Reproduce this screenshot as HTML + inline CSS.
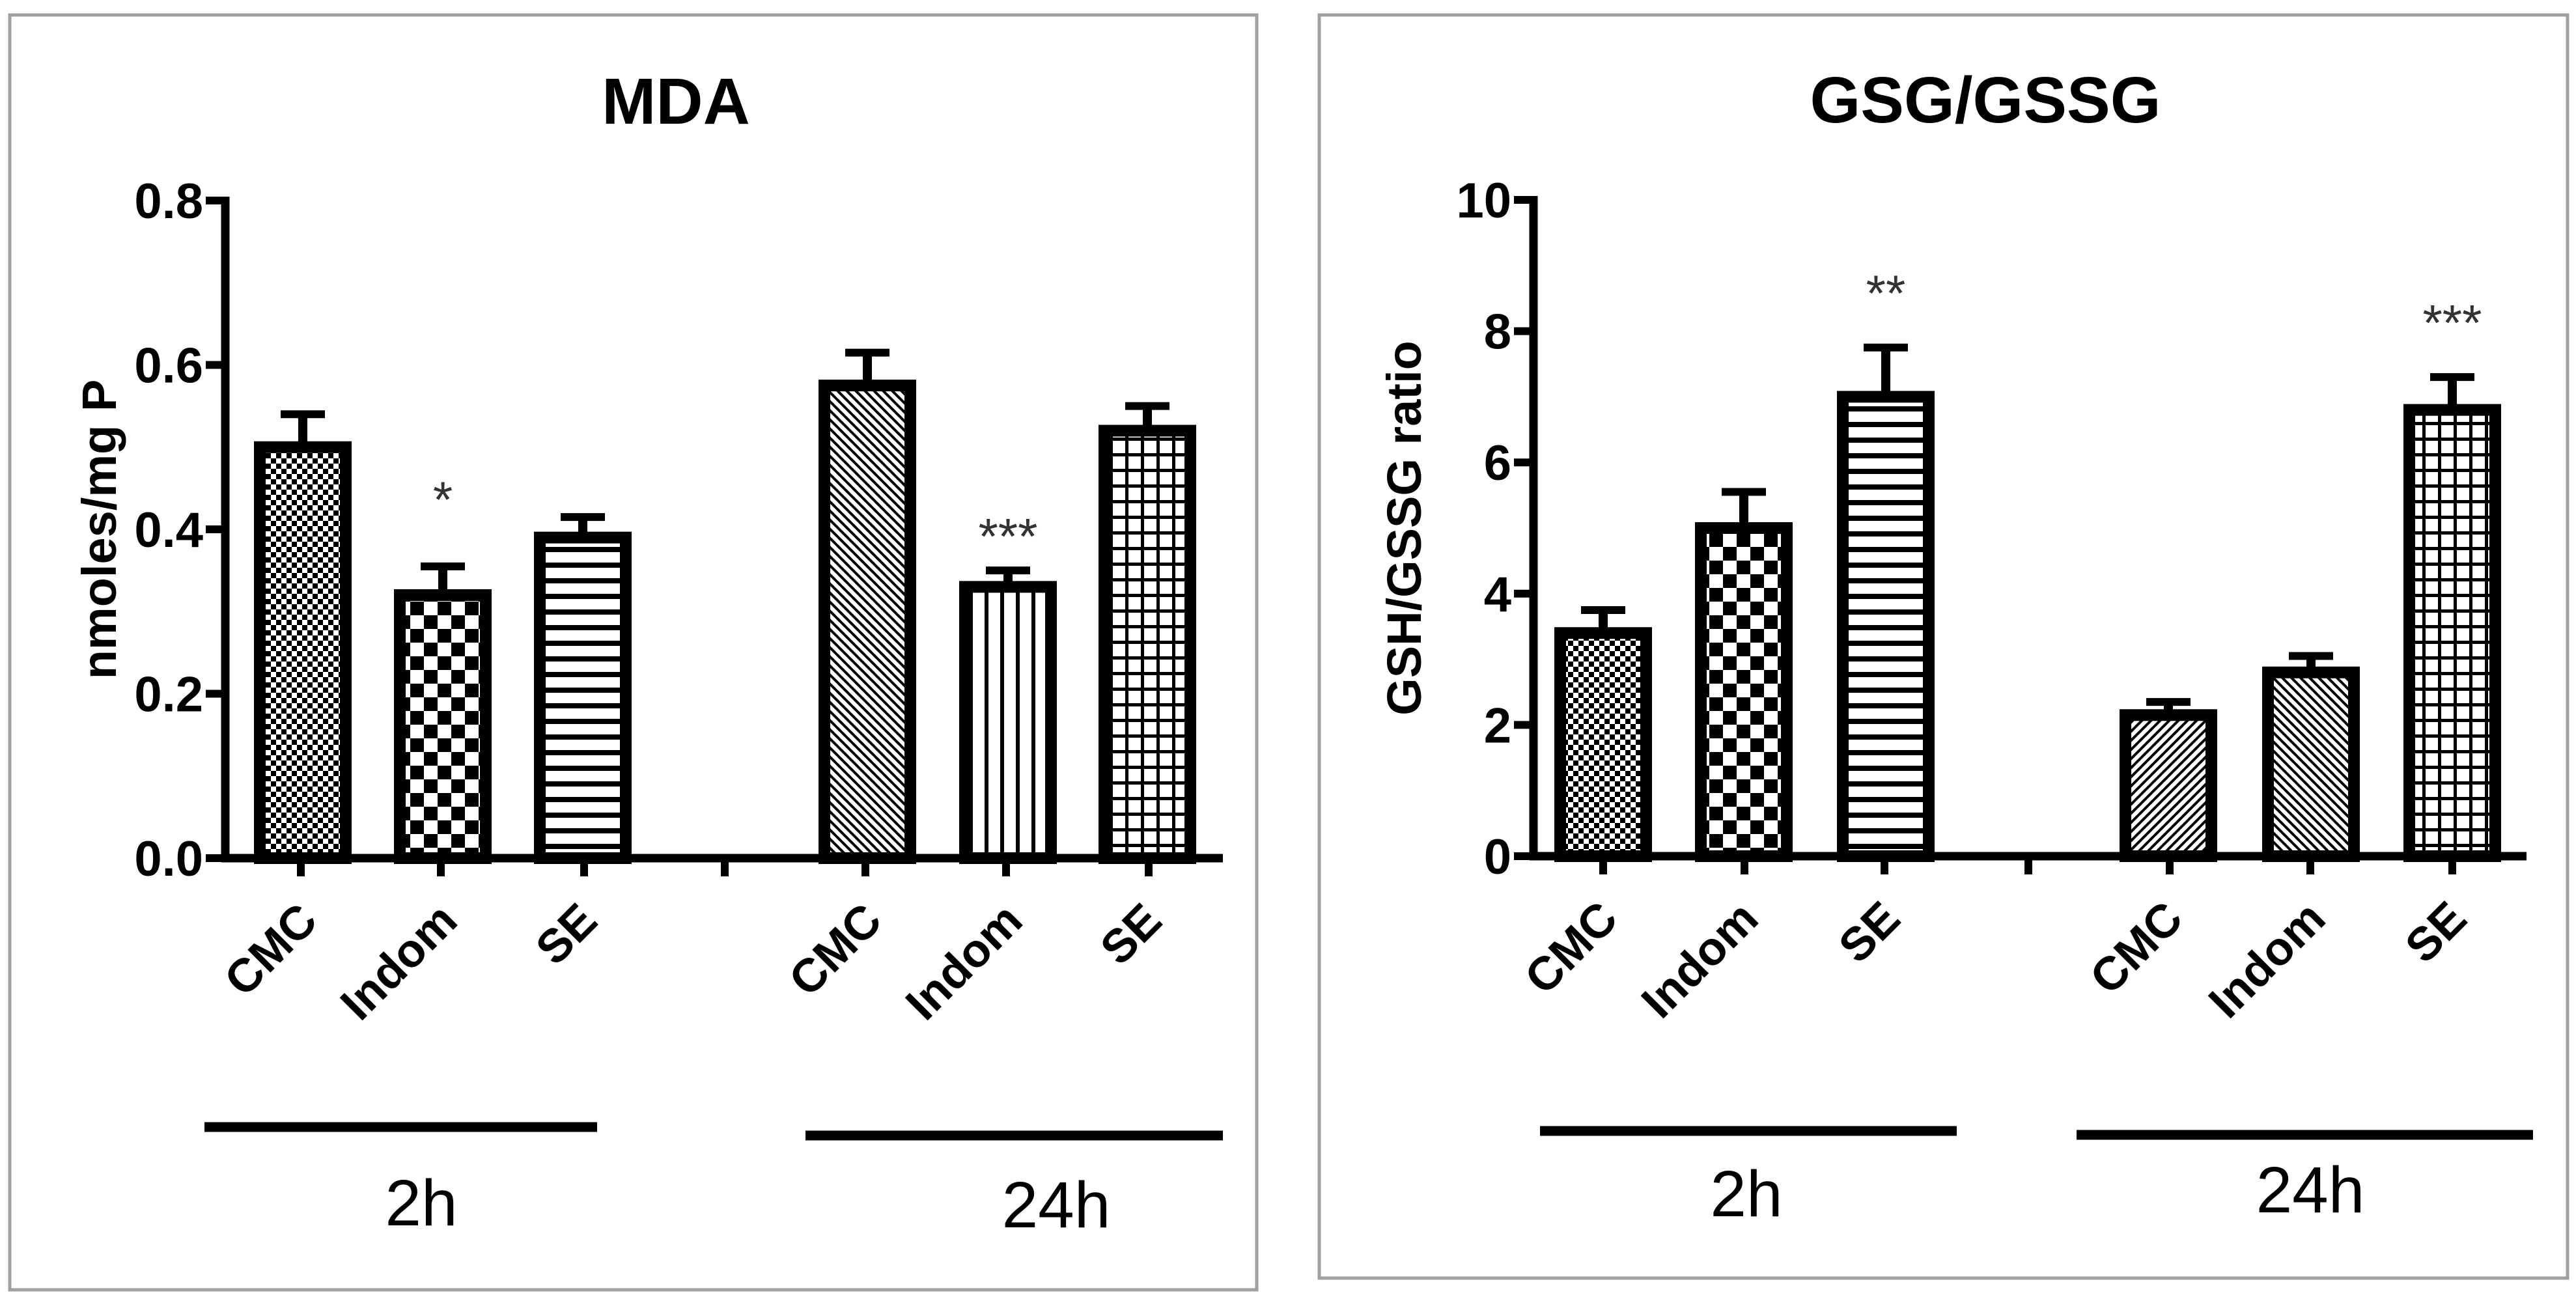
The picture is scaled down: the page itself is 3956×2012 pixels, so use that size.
<!DOCTYPE html>
<html><head><meta charset="utf-8">
<style>
html,body{margin:0;padding:0;background:#fff;}
svg{display:block;}
text{font-family:"Liberation Sans",Arial,sans-serif;}
</style></head>
<body>
<svg id="fig" width="3956" height="2012" viewBox="0 0 3956 2012" xmlns="http://www.w3.org/2000/svg">
<defs>
<pattern id="pSmallCheck" width="16" height="16" patternUnits="userSpaceOnUse"><rect width="16" height="16" fill="#fff"/><rect width="8" height="8" fill="#000"/><rect x="8" y="8" width="8" height="8" fill="#000"/></pattern>
<pattern id="pBigCheck" width="42" height="42" patternUnits="userSpaceOnUse"><rect width="42" height="42" fill="#fff"/><rect width="21" height="21" fill="#000"/><rect x="21" y="21" width="21" height="21" fill="#000"/></pattern>
<pattern id="pHoriz" width="24" height="24" patternUnits="userSpaceOnUse"><rect width="24" height="24" fill="#fff"/><rect y="0" width="24" height="8" fill="#000"/></pattern>
<pattern id="pVert" width="24" height="24" patternUnits="userSpaceOnUse"><rect width="24" height="24" fill="#fff"/><rect x="0" width="6" height="24" fill="#000"/></pattern>
<pattern id="pGrid" width="24" height="24" patternUnits="userSpaceOnUse"><rect width="24" height="24" fill="#fff"/><rect width="24" height="5" fill="#000"/><rect width="5" height="24" fill="#000"/></pattern>
<pattern id="pDiagBack" width="14" height="14" patternUnits="userSpaceOnUse"><rect width="14" height="14" fill="#fff"/><path d="M-3,-3 L17,17 M-3,11 L3,17 M11,-3 L17,3" stroke="#000" stroke-width="4"/></pattern>
<pattern id="pDiagFwd" width="14" height="14" patternUnits="userSpaceOnUse"><rect width="14" height="14" fill="#fff"/><path d="M-3,17 L17,-3 M-3,3 L3,-3 M11,17 L17,11" stroke="#000" stroke-width="4"/></pattern>
</defs>
<rect x="15" y="23" width="1915" height="1958" fill="#fff" stroke="#a0a0a0" stroke-width="5"/>
<rect x="2026" y="23" width="1917" height="1940" fill="#fff" stroke="#a0a0a0" stroke-width="5"/>
<g id="left"></g>
<g id="right"></g>
</svg>
<script>
const categories = ["CMC","Indom","SE","CMC","Indom","SE"];
const groupLabels = ["2h","24h"];
const mdaValues = [0.50,0.32,0.39,0.575,0.33,0.52];
const mdaErrors = [0.04,0.035,0.025,0.04,0.02,0.03];
const mdaStars = ["","*","","","***",""];
const mdaTicks = [0.0,0.2,0.4,0.6,0.8];
const gshValues = [3.4,5.0,7.0,2.15,2.8,6.8];
const gshErrors = [0.35,0.55,0.75,0.2,0.25,0.5];
const gshStars = ["","","**","","","***"];
const gshTicks = [0,2,4,6,8,10];

const NS="http://www.w3.org/2000/svg";
function mk(parent,tag,attrs,txt){const e=document.createElementNS(NS,tag);for(const k in attrs)e.setAttribute(k,attrs[k]);if(txt!==undefined)e.textContent=txt;parent.appendChild(e);return e;}

function drawChart(g,cfg){
  const y=v=>cfg.y0-(v-cfg.ymin)/(cfg.ymax-cfg.ymin)*(cfg.y0-cfg.ytop);
  const t=mk(g,"text",{x:cfg.titleX,y:cfg.titleY,"text-anchor":"middle","font-size":100,"font-weight":"bold"},cfg.title);
  
  
  const yt=mk(g,"text",{x:0,y:0,transform:`translate(${cfg.ytitleX},${(cfg.ytop+cfg.y0)/2}) rotate(-90)`,"text-anchor":"middle","font-size":74,"font-weight":"bold"},cfg.ytitle);
  
  
  cfg.values.forEach((v,i)=>{
    const cx=cfg.centers[i],w=cfg.barW,sw=18;
    const top=y(v),err=y(v+cfg.errors[i]);
    const el=mk(g,"line",{x1:cx,x2:cx,y1:top,y2:err,stroke:"#000","stroke-width":14});
    
    
    const cap=mk(g,"line",{x1:cx-34,x2:cx+34,y1:err,y2:err,stroke:"#000","stroke-width":12});
    
    
    const b=mk(g,"rect",{x:cx-w/2+sw/2,y:top,width:w-sw,height:cfg.y0-top,fill:`url(#${cfg.patterns[i]})`,stroke:"#000","stroke-width":sw});
    
    
    if(cfg.stars[i]){
      const s=mk(g,"text",{x:cx,y:y(cfg.starPos[i])+44,"text-anchor":"middle","font-size":78,fill:"#333"},cfg.stars[i]);
      
      
    }
    const lb=mk(g,"text",{x:0,y:0,transform:`translate(${cx+26},${cfg.y0+100}) rotate(-45)`,"text-anchor":"end","font-size":72,"font-weight":"bold"},categories[i]);
    
    
  });
  const ya=mk(g,"line",{x1:cfg.x0,x2:cfg.x0,y1:cfg.ytop-6,y2:cfg.y0+6,stroke:"#000","stroke-width":13});
  
  
  const xa=mk(g,"line",{x1:cfg.x0-6,x2:cfg.xend,y1:cfg.y0,y2:cfg.y0,stroke:"#000","stroke-width":13});
  
  
  cfg.ticks.forEach(tv=>{
    const tk=mk(g,"line",{x1:cfg.x0-30,x2:cfg.x0,y1:y(tv),y2:y(tv),stroke:"#000","stroke-width":12});
    
    
    const tl=mk(g,"text",{x:cfg.x0-34,y:y(tv)+27,"text-anchor":"end","font-size":76,"font-weight":"bold"},cfg.fmt(tv));
    
    
  });
  cfg.xticks.forEach(xv=>{
    const tk=mk(g,"line",{x1:xv,x2:xv,y1:cfg.y0,y2:cfg.y0+28,stroke:"#000","stroke-width":12});
    
    
  });
  cfg.glines.forEach((gl,k)=>{
    const l=mk(g,"line",{x1:gl[0],x2:gl[1],y1:gl[2],y2:gl[2],stroke:"#000","stroke-width":15});
    
    
    const tx=mk(g,"text",{x:gl[3],y:gl[4],"text-anchor":"middle","font-size":100},groupLabels[k]);
    
    
  });
}
const groups=["2h","2h","2h","24h","24h","24h"];
drawChart(document.getElementById('left'),{
  title:"MDA",titleX:1038,titleY:190,ytitle:"nmoles/mg P",ytitleX:178,
  x0:346,xend:1878,y0:1318,ytop:308,ymin:0,ymax:0.8,
  values:mdaValues,errors:mdaErrors,stars:mdaStars,ticks:mdaTicks,
  starPos:[0,0.45,0,0,0.405,0],
  fmt:v=>v.toFixed(1),groups:groups,
  centers:[465,680,895,1332,1548,1762],barW:150,
  xticks:[462,677,897,1113,1329,1545,1764],
  patterns:["pSmallCheck","pBigCheck","pHoriz","pDiagBack","pVert","pGrid"],
  glines:[[314,917,1731,647,1882],[1237,1878,1744,1622,1885]]
});
drawChart(document.getElementById('right'),{
  title:"GSG/GSSG",titleX:3049,titleY:188,ytitle:"GSH/GSSG ratio",ytitleX:2182,
  x0:2355,xend:3880,y0:1315,ytop:307,ymin:0,ymax:10,
  values:gshValues,errors:gshErrors,stars:gshStars,ticks:gshTicks,
  starPos:[0,0,8.75,0,0,8.3],
  fmt:v=>String(v),groups:groups,
  centers:[2462,2678,2896,3330,3549,3766],barW:150,
  xticks:[2462,2679,2894,3115,3332,3548,3766],
  patterns:["pSmallCheck","pBigCheck","pHoriz","pDiagFwd","pDiagBack","pGrid"],
  glines:[[2365,3005,1737,2682,1868],[3189,3890,1743,3548,1862]]
});
</script>
</body></html>
